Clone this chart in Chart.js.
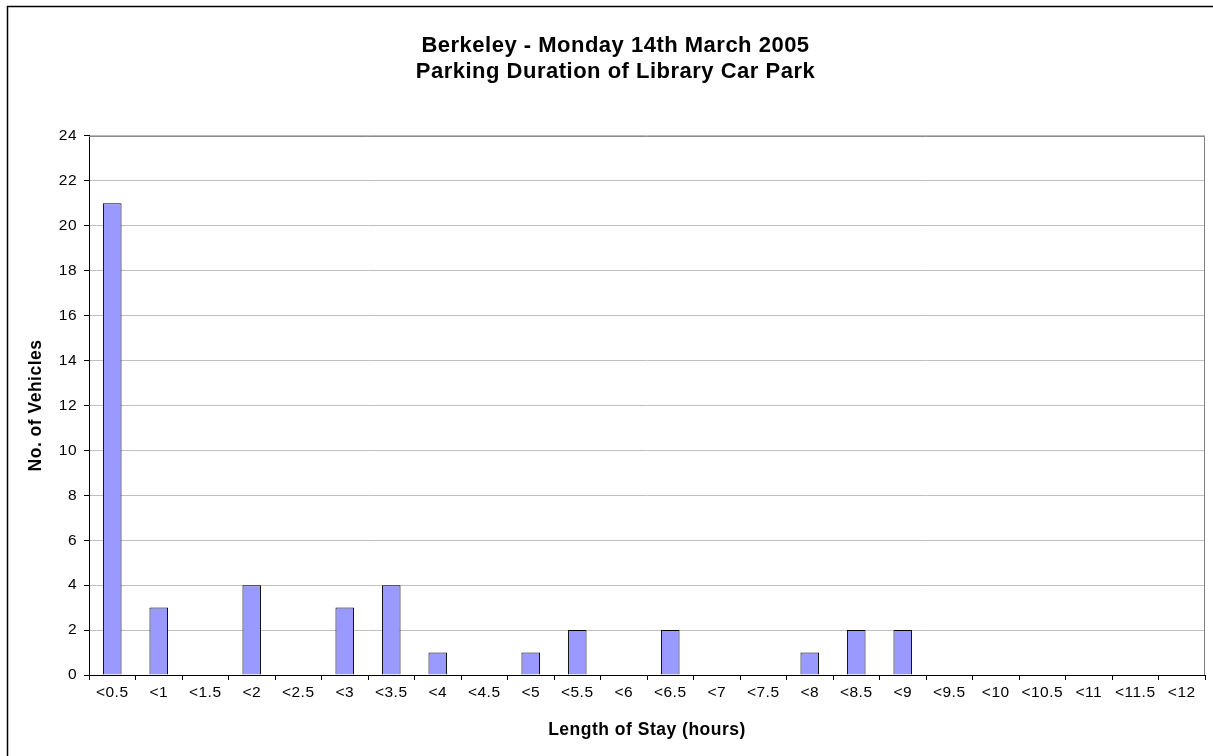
<!DOCTYPE html>
<html>
<head>
<meta charset="utf-8">
<script src="https://cdn.jsdelivr.net/npm/chart.js@4.4.0/dist/chart.umd.min.js"></script>
<style>
  body { margin: 0; background: #fff; }
  #wrap { width: 1213px; height: 756px; }
</style>
</head>
<body>
<div id="wrap"><canvas id="parkChart" width="1213" height="756"></canvas></div>
<script>
// categories (length of stay) and number of vehicles
const estancias = ['<0.5', '<1', '<1.5', '<2', '<2.5', '<3', '<3.5', '<4', '<4.5', '<5', '<5.5', '<6',
    '<6.5', '<7', '<7.5', '<8', '<8.5', '<9', '<9.5', '<10', '<10.5', '<11', '<11.5', '<12'];
const vehiculos = [21, 3, 0, 4, 0, 3, 4, 1, 0, 1, 2, 0, 2, 0, 0, 1, 2, 2, 0, 0, 0, 0, 0, 0];
const titulo = ['Berkeley - Monday 14th March 2005', 'Parking Duration of Library Car Park'];

const fuente = "Arial, 'Liberation Sans', sans-serif";

// borde exterior, borde del area del grafico y espaciado del texto
const bordes = {
    id: 'bordes',
    beforeUpdate(chart) {
        chart.ctx.letterSpacing = '0.5px';
    },
    beforeDraw(chart) {
        chart.ctx.letterSpacing = '0.5px';
    },
    beforeDatasetsDraw(chart) {
        const a = chart.chartArea;
        const ctx = chart.ctx;
        ctx.save();
        ctx.strokeStyle = '#808080';
        ctx.lineWidth = 1;
        ctx.beginPath();
        ctx.moveTo(a.left, a.top + 0.5);
        ctx.lineTo(a.right - 0.5, a.top + 0.5);
        ctx.lineTo(a.right - 0.5, a.bottom);
        ctx.stroke();
        ctx.restore();
    },
    afterDraw(chart) {
        const ctx = chart.ctx;
        ctx.save();
        ctx.strokeStyle = '#000';
        ctx.lineWidth = 1.5;
        ctx.strokeRect(7.5, 6.5, 1300, 1000);
        ctx.restore();
    }
};

const ctx = document.getElementById('parkChart').getContext('2d');
const chart = new Chart(ctx, {
    type: 'bar',
    data: {
        labels: estancias,
        datasets: [{
            data: vehiculos,
            backgroundColor: '#9999ff',
            borderColor: '#000',
            borderWidth: 1,
            barPercentage: 0.4,
            categoryPercentage: 1.0
        }]
    },
    options: {
        responsive: false,
        animation: false,
        layout: { padding: { top: 0, left: 26, right: 8, bottom: 15 } },
        plugins: {
            legend: { display: false },
            tooltip: { enabled: false },
            title: {
                display: true,
                text: titulo,
                color: '#000',
                font: { family: fuente, size: 22, weight: 'bold', lineHeight: 1.18 },
                padding: { top: 33, bottom: 51 }
            }
        },
        scales: {
            x: {
                offset: true,
                grid: { display: true, drawOnChartArea: false, color: '#000', tickLength: 5, offset: true },
                border: { color: '#000', width: 1 },
                ticks: { color: '#000', font: { family: fuente, size: 15.5 }, padding: 3, maxRotation: 0, autoSkip: false },
                title: {
                    display: true,
                    text: 'Length of Stay (hours)',
                    color: '#000',
                    font: { family: fuente, size: 17.5, weight: 'bold' },
                    padding: 0
                },
                afterFit(scale) { scale.height = 66; }
            },
            y: {
                min: 0,
                max: 24,
                grid: { color: '#c0c0c0', tickColor: '#000', tickLength: 5 },
                border: { color: '#000', width: 1 },
                ticks: { stepSize: 2, color: '#000', font: { family: fuente, size: 15.5 }, padding: 7 },
                title: {
                    display: true,
                    text: 'No. of Vehicles',
                    color: '#000',
                    font: { family: fuente, size: 17.5, weight: 'bold' },
                    padding: 0
                },
                afterFit(scale) { scale.width = 63; }
            }
        }
    },
    plugins: [bordes]
});
</script>
</body>
</html>
